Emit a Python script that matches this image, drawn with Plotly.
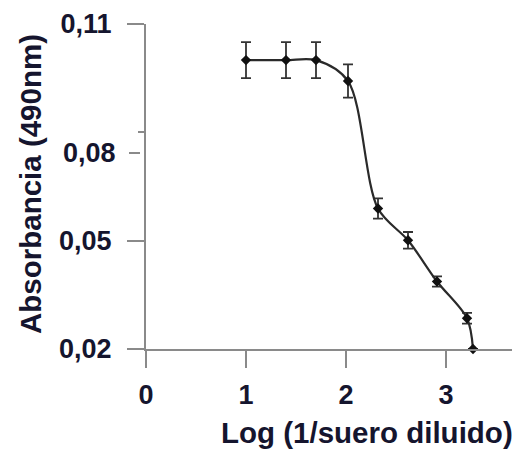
import plotly.graph_objects as go

# Data
log_dilution = [1.0, 1.4, 1.7, 2.02, 2.32, 2.62, 2.91, 3.21, 3.27]
absorbance = [0.100, 0.100, 0.100, 0.0942, 0.0589, 0.0501, 0.0387, 0.0285, 0.0200]
error = [0.005, 0.005, 0.005, 0.0046, 0.0028, 0.0023, 0.0014, 0.0015, 0.0]

y_tick_vals = [0.02, 0.05, 0.11]
y_tick_text = ["0,02", "0,05", "0,11"]
y_minor_vals = [0.08]
x_tick_vals = [0, 1, 2, 3]
x_tick_text = ["0", "1", "2", "3"]

TXT = "#15152e"
AX = "#8a8a8a"
FONT = "Liberation Sans, Arial, sans-serif"

# page body adds an 8px offset; size the figure so it fills the window
OFF = 8
W, H = 520 - OFF, 450 - OFF
PLOT_LEFT, PLOT_TOP, PLOT_BOTTOM, PLOT_RIGHT = 146, 24, 349, 519  # window px
L, T = PLOT_LEFT - OFF, PLOT_TOP - OFF
B = H - (PLOT_BOTTOM - OFF)
R = W - (PLOT_RIGHT - OFF)
PW, PH = W - L - R, H - T - B


def px_x(px):
    return (px - PLOT_LEFT) / PW


def px_y(py):
    return (PLOT_BOTTOM - py) / PH


fig = go.Figure()
fig.add_trace(go.Scatter(
    x=log_dilution, y=absorbance,
    mode="lines+markers",
    line=dict(color="#2a2a2a", width=2.2, shape="spline", smoothing=0.9),
    marker=dict(color="#111111", size=8, symbol="diamond"),
    error_y=dict(type="data", array=error, visible=True, color="#333333",
                 thickness=1.8, width=5),
    cliponaxis=False,
    showlegend=False,
))

fig.update_layout(
    width=W, height=H,
    margin=dict(l=L, r=R, t=T, b=B),
    paper_bgcolor="white", plot_bgcolor="white",
    font=dict(family=FONT, color=TXT),
    xaxis=dict(
        range=[0, 3.73], showgrid=False, zeroline=False, automargin=False,
        showline=True, linecolor=AX, linewidth=2,
        tickmode="array", tickvals=x_tick_vals, ticktext=x_tick_text,
        ticks="outside", ticklen=17, tickwidth=2, tickcolor=AX,
        tickfont=dict(size=27, family=FONT, color=TXT, weight="bold"),
        ticklabelstandoff=4,
    ),
    yaxis=dict(
        range=[0.02, 0.11], showgrid=False, zeroline=False, automargin=False,
        showline=True, linecolor=AX, linewidth=2,
        tickmode="array", tickvals=y_tick_vals, ticktext=y_tick_text,
        ticks="outside", ticklen=17, tickwidth=2, tickcolor=AX,
        tickfont=dict(size=27, family=FONT, color=TXT, weight="bold"),
        ticklabelstandoff=10,
        minor=dict(tickmode="array", tickvals=y_minor_vals, ticks="outside",
                   ticklen=6, tickwidth=2, tickcolor=AX),
    ),
)

# displaced "0,08" label with its short dash, as in the reference
fig.add_annotation(x=px_x(118), y=px_y(153), xref="paper", yref="paper",
                   text="0,08", showarrow=False, xanchor="right",
                   yanchor="middle",
                   font=dict(size=27, family=FONT, color=TXT, weight="bold"))
fig.add_shape(type="line", xref="paper", yref="paper", x0=px_x(129),
              x1=px_x(140), y0=px_y(153), y1=px_y(153),
              line=dict(color=AX, width=2))

# axis titles
fig.add_annotation(x=px_x(367), y=px_y(432), xref="paper", yref="paper",
                   text="Log (1/suero diluido)", showarrow=False,
                   xanchor="center", yanchor="middle",
                   font=dict(size=29.5, family=FONT, color=TXT, weight="bold"))
fig.add_annotation(x=px_x(30), y=px_y(184), xref="paper", yref="paper",
                   text="Absorbancia (490nm)", showarrow=False, textangle=-90,
                   xanchor="center", yanchor="middle",
                   font=dict(size=29.5, family=FONT, color=TXT, weight="bold"))

fig.write_html("out.html")
